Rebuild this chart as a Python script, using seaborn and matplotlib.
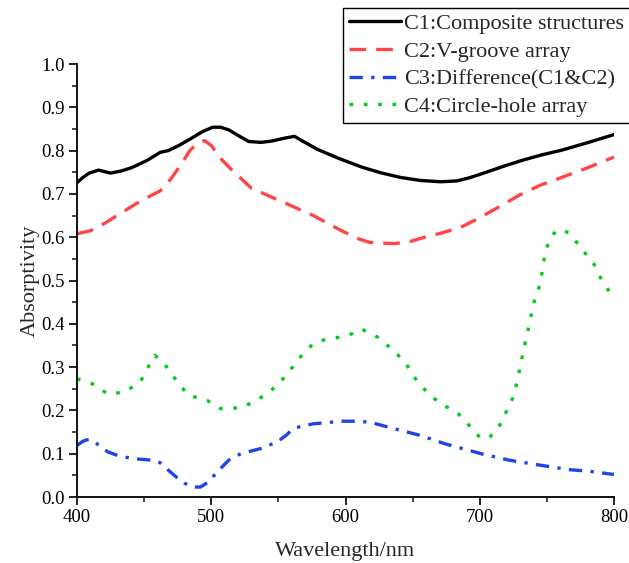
import numpy as np
import pandas as pd
import matplotlib
matplotlib.use("Agg")
import matplotlib.pyplot as plt
import seaborn as sns
from matplotlib.ticker import MultipleLocator

# ---- data ----
c1_x = [400, 404, 409, 416, 421, 425, 433, 441, 452, 462, 468, 476, 485, 493, 501, 507, 513, 520, 528, 537, 545, 555, 562, 568, 579, 595, 612, 626, 641, 656, 671, 683, 692, 701, 716, 731, 746, 761, 780, 800]
c1_y = [0.726, 0.737, 0.748, 0.755, 0.751, 0.748, 0.753, 0.761, 0.777, 0.796, 0.800, 0.812, 0.828, 0.843, 0.854, 0.854, 0.848, 0.835, 0.821, 0.819, 0.822, 0.829, 0.833, 0.822, 0.803, 0.782, 0.762, 0.749, 0.738, 0.731, 0.728, 0.730, 0.737, 0.746, 0.762, 0.777, 0.790, 0.801, 0.818, 0.837]

c2_x = [400, 410, 420, 435, 447, 462, 470, 478, 484, 489, 495, 500, 506, 516, 530, 552, 576, 597, 610, 618, 636, 648, 659, 672, 686, 700, 716, 730, 745, 761, 780, 800]
c2_y = [0.608, 0.615, 0.631, 0.660, 0.683, 0.707, 0.735, 0.770, 0.800, 0.815, 0.823, 0.812, 0.785, 0.753, 0.713, 0.683, 0.650, 0.615, 0.596, 0.588, 0.585, 0.590, 0.600, 0.610, 0.623, 0.645, 0.673, 0.698, 0.720, 0.738, 0.760, 0.785]

c3_x = [400, 404, 407, 411, 417, 423, 432, 444, 456, 462, 468, 474, 480, 486, 492, 497, 501, 507, 513, 522, 537, 549, 556, 561, 568, 576, 597, 606, 618, 636, 656, 674, 701, 722, 746, 767, 780, 800]
c3_y = [0.119, 0.128, 0.132, 0.132, 0.118, 0.104, 0.094, 0.088, 0.085, 0.079, 0.062, 0.046, 0.032, 0.023, 0.023, 0.033, 0.046, 0.066, 0.085, 0.100, 0.112, 0.127, 0.143, 0.158, 0.164, 0.169, 0.175, 0.175, 0.173, 0.158, 0.142, 0.123, 0.100, 0.085, 0.073, 0.063, 0.060, 0.052]

c4_x = [400, 411, 423, 435, 447, 453, 458, 465, 474, 483, 497, 507, 522, 534, 546, 556, 565, 576, 586, 600, 607, 612, 624, 636, 645, 653, 662, 671, 683, 691, 700, 706, 713, 719, 725, 728, 731, 734, 737, 740, 745, 749, 753, 757, 762, 767, 776, 785, 791, 800]
c4_y = [0.273, 0.262, 0.238, 0.242, 0.265, 0.300, 0.327, 0.308, 0.269, 0.235, 0.223, 0.204, 0.206, 0.223, 0.250, 0.281, 0.319, 0.354, 0.365, 0.371, 0.380, 0.388, 0.369, 0.338, 0.308, 0.269, 0.238, 0.215, 0.196, 0.169, 0.138, 0.135, 0.154, 0.192, 0.231, 0.269, 0.315, 0.358, 0.400, 0.446, 0.492, 0.569, 0.600, 0.615, 0.617, 0.608, 0.573, 0.538, 0.500, 0.458]

labels = ["C1:Composite structures", "C2:V-groove array", "C3:Difference(C1&C2)", "C4:Circle-hole array"]
x_label = "Wavelength/nm"
y_label = "Absorptivity"

sns.set_theme(style="ticks")
plt.rcParams['font.family'] = ['Liberation Serif', 'DejaVu Serif']

fig = plt.figure(figsize=(6.29, 5.63), dpi=100)
ax = fig.add_axes([77/629, 1-497/563, 537/629, 433/563])

series = [(c1_x, c1_y), (c2_x, c2_y), (c3_x, c3_y), (c4_x, c4_y)]
colors = ["#000000", "#FF4545", "#1F45E6", "#00CC1A"]
styles = [dict(linestyle="-"), dict(linestyle=(0, (5, 3))), dict(linestyle=(0, (4, 2.5, 1, 2.5))), dict(linestyle=(0, (1.1, 3.2)))]

frames = []
for (xs, ys), lab in zip(series, labels):
    frames.append(pd.DataFrame({"Wavelength": xs, "Absorptivity": ys, "Curve": lab}))
df = pd.concat(frames, ignore_index=True)

for lab, col, st in zip(labels, colors, styles):
    sub = df[df["Curve"] == lab]
    sns.lineplot(data=sub, x="Wavelength", y="Absorptivity", ax=ax, color=col,
                 linewidth=2.4, label=lab, sort=True, **st)

ax.set_xlim(400, 800)
ax.set_ylim(0, 1.0)
ax.xaxis.set_major_locator(MultipleLocator(100))
ax.xaxis.set_minor_locator(MultipleLocator(50))
ax.yaxis.set_major_locator(MultipleLocator(0.1))
ax.yaxis.set_minor_locator(MultipleLocator(0.05))
ax.yaxis.set_major_formatter(matplotlib.ticker.FormatStrFormatter('%.1f'))
ax.tick_params(axis='both', which='major', direction='out', length=6, width=1.2, labelsize=13.5, colors='black', pad=3)
ax.tick_params(axis='both', which='minor', direction='out', length=3.5, width=1.2)
for s in ["top", "right"]:
    ax.spines[s].set_visible(False)
for s in ["left", "bottom"]:
    ax.spines[s].set_linewidth(1.3)
    ax.spines[s].set_color('black')
ax.set_xlabel(x_label, fontsize=16, labelpad=11)
ax.set_ylabel(y_label, fontsize=16, labelpad=1)

leg = ax.legend(loc='upper left', bbox_to_anchor=(343/629, 1-8/563), bbox_transform=fig.transFigure,
                fontsize=16, frameon=True, fancybox=False, edgecolor='black', framealpha=1,
                borderaxespad=0, borderpad=0.25, handlelength=2.35, handletextpad=0.15, labelspacing=0.32)
leg.get_frame().set_linewidth(1.0)

fig.savefig("out.png", dpi=100)
